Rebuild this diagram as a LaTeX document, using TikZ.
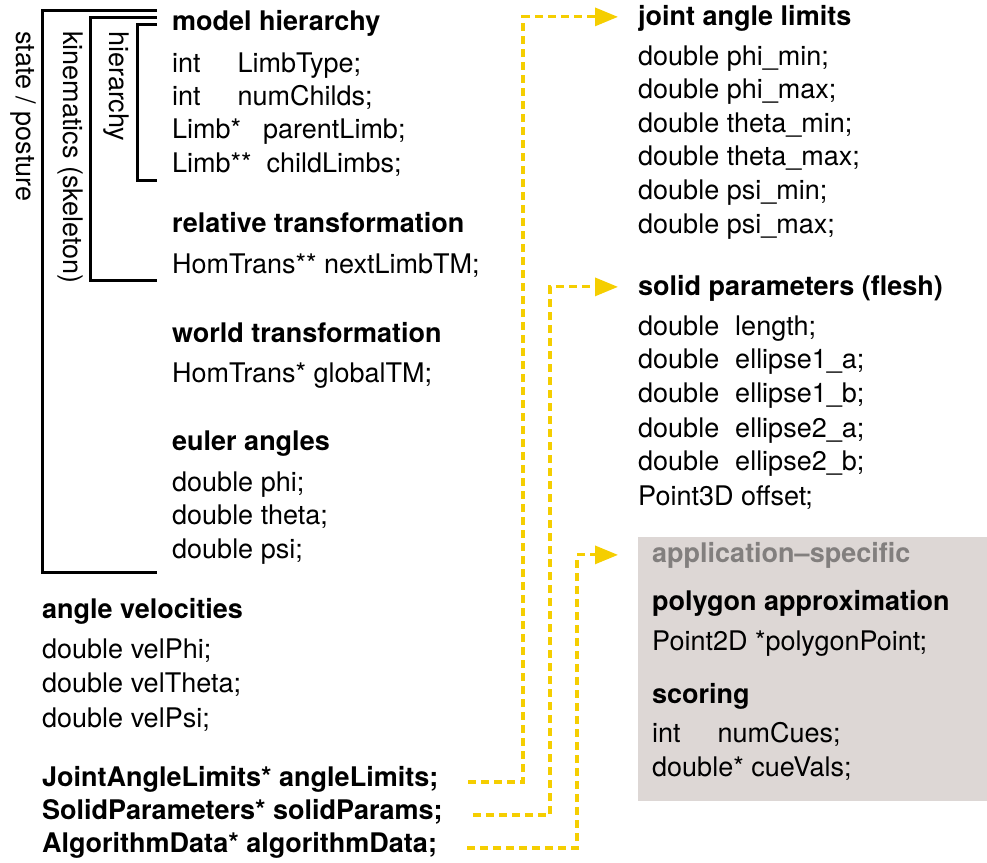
\documentclass[tikz,border=0pt]{standalone}
\usepackage{fontspec}
\setmainfont{TeX Gyre Heros}
\usetikzlibrary{arrows.meta}
\definecolor{yel}{RGB}{245,206,0}
\definecolor{boxgray}{RGB}{221,215,213}
\definecolor{appgray}{RGB}{130,127,126}
\newcommand{\fs}{\fontsize{27pt}{33pt}\selectfont}
\tikzset{
  txt/.style={anchor=base west, inner sep=0pt, font=\fs},
  hd/.style={anchor=base west, inner sep=0pt, font=\fs\bfseries},
  vlabel/.style={anchor=west, inner sep=0pt, rotate=-90, font=\fs},
  brk/.style={line width=3pt, line cap=butt},
  conn/.style={yel, line width=3.2pt, dash pattern=on 8pt off 5pt, -{Triangle[length=23pt,width=18pt]}}
}
\begin{document}
\begin{tikzpicture}[x=1pt,y=-1pt]
\useasboundingbox (0,0) rectangle (987,862);
% gray box
\node[fill=boxgray, inner sep=0pt, minimum width=349pt, minimum height=264pt, anchor=north west] (appbox) at (638,537) {};
% brackets
\draw[brk] (157,10) -- (42,10) -- (42,572) -- (157,572);
\draw[brk] (157,17) -- (90,17) -- (90,280) -- (157,280);
\draw[brk] (157,24) -- (137,24) -- (137,180) -- (157,180);
\node[vlabel] (lstate) at (23,31) {state / posture};
\node[vlabel] (lkin) at (70,31) {kinematics (skeleton)};
\node[vlabel] (lhier) at (116,31) {hierarchy};
% left column
\node[hd] (mh) at (172,30) {model hierarchy};
\node[txt] (m1) at (172,72) {int\hspace{37pt}LimbType;};
\node[txt] (m2) at (172,105) {int\hspace{37pt}numChilds;};
\node[txt] (m3) at (172,138) {Limb*\hspace{22pt}parentLimb;};
\node[txt] (m4) at (172,172) {Limb**\hspace{15pt}childLimbs;};
\node[hd] (rt) at (172,232) {relative transformation};
\node[txt] (r1) at (172,273) {HomTrans** nextLimbTM;};
\node[hd] (wt) at (172,342) {world transformation};
\node[txt] (w1) at (172,382) {HomTrans* globalTM;};
\node[hd] (ea) at (172,450) {euler angles};
\node[txt] (e1) at (172,491) {double phi;};
\node[txt] (e2) at (172,524) {double theta;};
\node[txt] (e3) at (172,558) {double psi;};
\node[hd] (av) at (42,618) {angle velocities};
\node[txt] (a1) at (42,658) {double velPhi;};
\node[txt] (a2) at (42,692) {double velTheta;};
\node[txt] (a3) at (42,727) {double velPsi;};
\node[hd] (b1) at (42,786) {JointAngleLimits* angleLimits;};
\node[hd] (b2) at (42,819) {SolidParameters* solidParams;};
\node[hd] (b3) at (42,852) {AlgorithmData* algorithmData;};
% right column
\node[hd] (jal) at (638,25) {joint angle limits};
\node[txt] (j1) at (638,65) {double phi\_min;};
\node[txt] (j2) at (638,98) {double phi\_max;};
\node[txt] (j3) at (638,132) {double theta\_min;};
\node[txt] (j4) at (638,165) {double theta\_max;};
\node[txt] (j5) at (638,199) {double psi\_min;};
\node[txt] (j6) at (638,233) {double psi\_max;};
\node[hd] (sp) at (638,295) {solid parameters (flesh)};
\node[txt] (s1) at (638,335) {double\hspace{16pt}length;};
\node[txt] (s2) at (638,368) {double\hspace{16pt}ellipse1\_a;};
\node[txt] (s3) at (638,402) {double\hspace{16pt}ellipse1\_b;};
\node[txt] (s4) at (638,437) {double\hspace{16pt}ellipse2\_a;};
\node[txt] (s5) at (638,470) {double\hspace{16pt}ellipse2\_b;};
\node[txt] (s6) at (638,505) {Point3D offset;};
\node[hd, text=appgray] (aps) at (652,562) {application--specific};
\node[hd] (pa) at (652,610) {polygon approximation};
\node[txt] (p1) at (652,650) {Point2D *polygonPoint;};
\node[hd] (sc) at (652,703) {scoring};
\node[txt] (c1) at (652,742) {int\hspace{37pt}numCues;};
\node[txt] (c2) at (652,776) {double* cueVals;};
% connectors
\coordinate (v1) at (523,0);
\coordinate (v2) at (550,0);
\coordinate (v3) at (577,0);
\coordinate (t1) at ([xshift=-20pt,yshift=1pt]jal.west);
\coordinate (t2) at ([xshift=-20pt,yshift=1pt]sp.west);
\coordinate (t3) at ([xshift=-34pt]aps.west);
\draw[conn] ([xshift=30pt,yshift=4pt]b1.base east) -| (v1 |- t1) -- (t1);
\draw[conn] ([xshift=30pt,yshift=4pt]b2.base east) -| (v2 |- t2) -- (t2);
\draw[conn] ([xshift=30pt,yshift=4pt]b3.base east) -| (v3 |- t3) -- (t3);
\end{tikzpicture}
\end{document}
